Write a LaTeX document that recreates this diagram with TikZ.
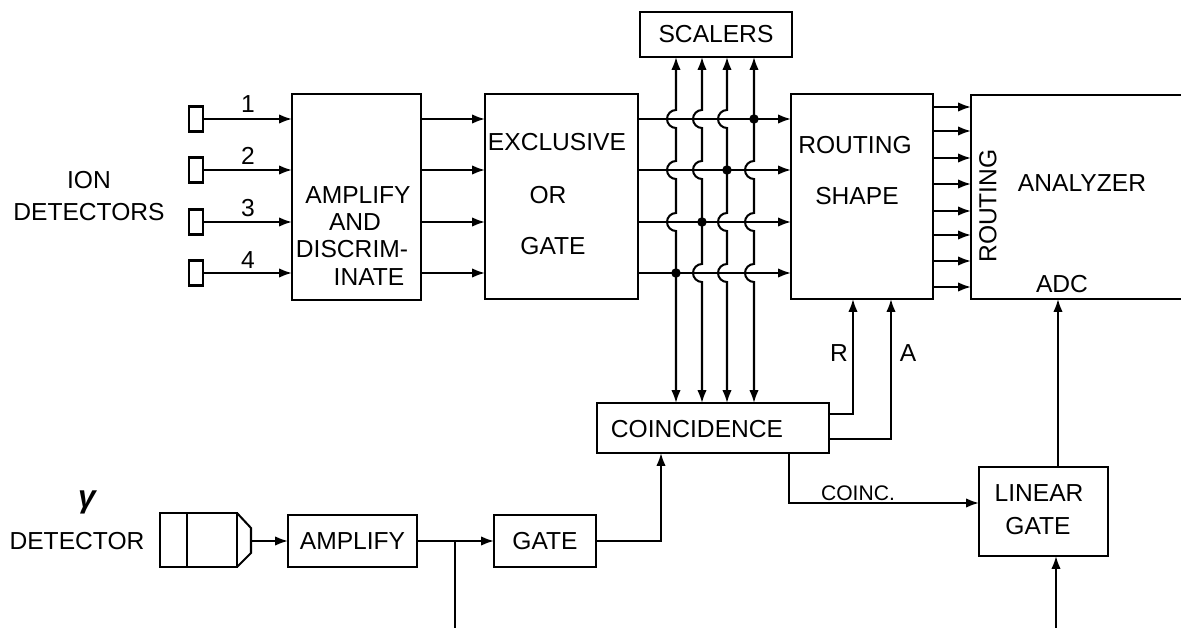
\documentclass[tikz,border=0pt]{standalone}
\usepackage{fontspec}
\setmainfont{Liberation Sans}
\usetikzlibrary{positioning, arrows.meta, calc}
\newcommand{\hop}[2]{-- ($(#1|-#2)+(0,-9)$) arc[start angle=90,end angle=270,radius=0.18cm]}

\begin{document}
\begin{tikzpicture}[x=0.02cm, y=-0.02cm, line width=1.15pt,
      box/.style={rectangle, draw, inner sep=0pt, outer sep=0pt, align=center, font=\fontsize{14}{16}\selectfont},
      txt/.style={inner sep=0pt, align=center, font=\fontsize{14}{16}\selectfont},
      small/.style={inner sep=0pt, font=\fontsize{12}{14}\selectfont},
      dot/.style={circle, fill, inner sep=0pt, minimum size=0.19cm},
      arr/.style={-{Latex[length=2.6mm,width=1.9mm]}},
      both/.style={{Latex[length=2.6mm,width=1.9mm]}-{Latex[length=2.6mm,width=1.9mm]}}
    ]
      \useasboundingbox (0,0) rectangle (1181,628);

      \node[box, minimum width=2.58cm, minimum height=4.12cm] (amp) at (356.5,197) {};
      \node[box, minimum width=3.06cm, minimum height=4.1cm] (excl) at (561.5,196.5) {};
      \node[box, minimum width=2.84cm, minimum height=4.1cm] (rout) at (862,196.5) {};
      \node[box, minimum width=3.04cm, minimum height=0.9cm] (scal) at (716,34.5) {SCALERS};
      \node[box, minimum width=4.64cm, minimum height=1cm] (coin) at (713,428) {};
      \node[box, minimum width=2.58cm, minimum height=1.78cm] (lin) at (1043.5,511.5) {};
      \node[box, minimum width=2.58cm, minimum height=1.04cm] (amptwo) at (352.5,541) {AMPLIFY};
      \node[box, minimum width=2.04cm, minimum height=1.04cm] (gate) at (545,541) {GATE};
      \node[box, minimum width=1.54cm, minimum height=1.08cm] (gdet) at (198.5,540) {};
      \node[minimum width=4.2cm, minimum height=4.08cm, inner sep=0pt, outer sep=0pt] (ana) at (1076,197) {};
      \draw (ana.north east) -- (ana.north west) -- (ana.south west) -- (ana.south east);

      \node[txt] (ion) at (89,180) {ION};
      \node[txt] (dets) at (89,212) {DETECTORS};
      \node[txt] (ampa) at (358,195) {AMPLIFY};
      \node[txt] (ampb) at (355,222) {AND};
      \node[txt] (ampc) at (352,249) {DISCRIM-};
      \node[txt] (ampd) at (369,277) {INATE};
      \node[txt] (exa) at (557,142) {EXCLUSIVE};
      \node[txt] (exb) at (548,195) {OR};
      \node[txt] (exc) at (553,246) {GATE};
      \node[txt] (roa) at (855,145) {ROUTING};
      \node[txt] (rob) at (857,196) {SHAPE};
      \node[txt, rotate=90] (anr) at (988,206) {ROUTING};
      \node[txt] (anl) at (1082,183) {ANALYZER};
      \node[txt] (adc) at (1062,284) {ADC};
      \node[txt] (cotxt) at (697,429) {COINCIDENCE};
      \node[txt] (lina) at (1039,493) {LINEAR};
      \node[txt] (linb) at (1038,526) {GATE};
      \node[inner sep=0pt, font=\fontsize{18}{20}\selectfont\bfseries\itshape] (gam) at (87,502) {γ};
      \node[txt] (gdtxt) at (77,541) {DETECTOR};
      \node[txt] (rlab) at (839,353) {R};
      \node[txt] (alab) at (908,353) {A};
      \node[small] (colab) at (858,493) {COINC.};

      \foreach \i/\y/\lab in {1/119/104, 2/170/156, 3/222/208, 4/273/260} {
        \node[box, minimum width=0.28cm, minimum height=0.5cm] (det\i) at (196,\y) {};
        \node[txt] (num\i) at (248,\lab) {\i};
        \draw[arr] (det\i.east) -- (det\i.east -| amp.west);
        \draw[arr] (amp.east |- det\i) -- (excl.west |- det\i);
        \draw[arr] (excl.east |- det\i) -- (rout.west |- det\i);
      }

      \foreach \y in {107,131,158,184,211,235,261,287} {
        \coordinate (p) at (950,\y);
        \draw[arr] (rout.east |- p) -- (ana.west |- p);
      }

      \coordinate (va) at (676,300);
      \coordinate (vb) at (702,300);
      \coordinate (vc) at (727,300);
      \coordinate (vd) at (754,300);

      \draw[both] (va |- scal.south) \hop{va}{det1} \hop{va}{det2} \hop{va}{det3} -- (va |- coin.north);
      \draw[both] (vb |- scal.south) \hop{vb}{det1} \hop{vb}{det2} \hop{vb}{det4} -- (vb |- coin.north);
      \draw[both] (vc |- scal.south) \hop{vc}{det1} \hop{vc}{det3} \hop{vc}{det4} -- (vc |- coin.north);
      \draw[both] (vd |- scal.south) \hop{vd}{det2} \hop{vd}{det3} \hop{vd}{det4} -- (vd |- coin.north);

      \node[dot] (da) at (va |- det4) {};
      \node[dot] (db) at (vb |- det3) {};
      \node[dot] (dc) at (vc |- det2) {};
      \node[dot] (dd) at (vd |- det1) {};

      \coordinate (rr) at (853,414);
      \coordinate (aa) at (891,439);
      \draw[arr] (coin.east |- rr) -- (rr) -- (rr |- rout.south);
      \draw[arr] (coin.east |- aa) -- (aa) -- (aa |- rout.south);

      \coordinate (cc) at (789,503);
      \draw[arr] (cc |- coin.south) -- (cc) -- (cc -| lin.west);

      \coordinate (lo) at (1058,500);
      \draw[arr] (lo |- lin.north) -- (lo |- ana.south);
      \coordinate (li) at (1056,628);
      \draw[arr] (li) -- (li |- lin.south);

      \draw (gdet.north west) ++(27,0) coordinate (gl) -- (gl |- gdet.south);
      \coordinate (gtip) at (251,541);
      \draw (gdet.north east) -- (gtip |- 0,528) -- (gtip |- 0,553) -- (gdet.south east);
      \draw[arr] (gtip) -- (amptwo.west);

      \coordinate (branch) at (455,541);
      \coordinate (bend) at (455,628);
      \draw[arr] (amptwo.east) -- (gate.west);
      \draw (branch) -- (bend);

      \coordinate (gg) at (661,541);
      \draw[arr] (gate.east) -- (gg) -- (gg |- coin.south);
    \end{tikzpicture}
\end{document}
